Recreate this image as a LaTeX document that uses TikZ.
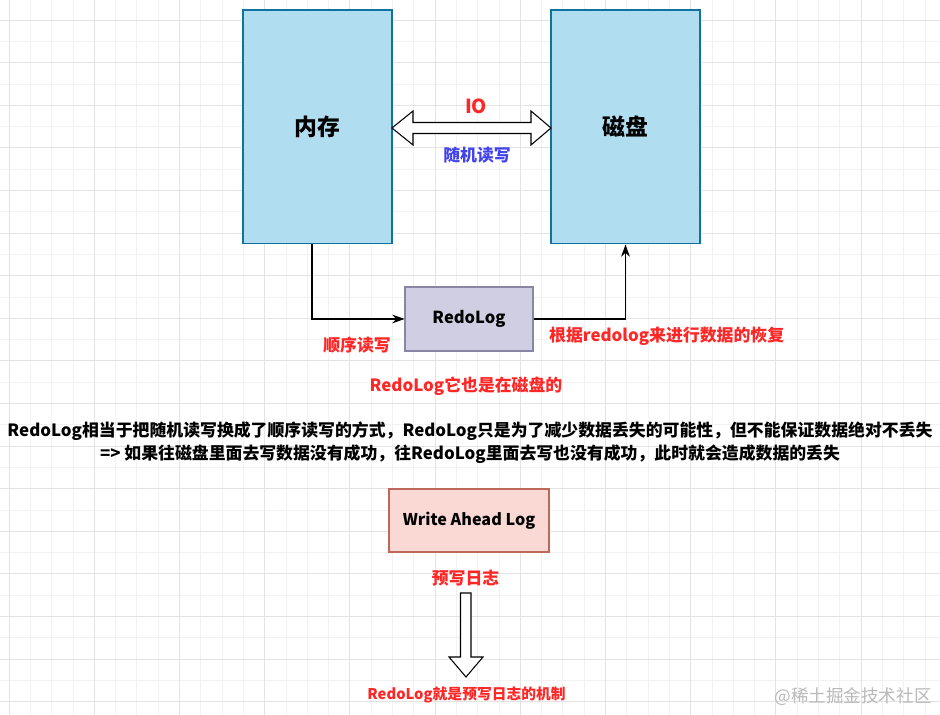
\documentclass[tikz,border=0pt]{standalone}
\usepackage{fontspec}
\setmainfont{Noto Sans CJK SC}
\usetikzlibrary{arrows.meta}
\definecolor{memfill}{HTML}{B1DDF0}
\definecolor{memline}{HTML}{10739E}
\definecolor{redofill}{HTML}{D0CEE2}
\definecolor{redoline}{HTML}{56517E}
\definecolor{walfill}{HTML}{FAD9D5}
\definecolor{walline}{HTML}{AE4132}
\definecolor{notered}{HTML}{FF2626}
\definecolor{noteblue}{HTML}{4343EE}

\begin{document}
\begin{tikzpicture}[x=0.02cm, y=-0.02cm,
  box/.style={draw, line width=0.6pt, font=\bfseries\fontsize{9.4}{11}\selectfont},
  store/.style={box, fill=memfill, draw=memline, minimum width=2.98cm, minimum height=4.68cm,
    font=\bfseries\fontsize{13}{15}\selectfont},
  rednote/.style={text=notered, font=\bfseries\fontsize{9.6}{11}\selectfont},
  hollow/.style={draw, fill=white, line width=0.6pt, line join=miter},
  gridminor/.style={gray!10, line width=0.4pt},
  gridmajor/.style={gray!22, line width=0.5pt}]
  \useasboundingbox (0,0) rectangle (940,715);
  % background grid
  \fill[white] (0,0) rectangle (940,715);
  \foreach \k in {0,...,44} \draw[gridminor] ({9+21.3*\k},0) -- ({9+21.3*\k},715);
  \foreach \k in {0,...,34} \draw[gridminor] (0,{-1.3+21.3*\k}) -- (940,{-1.3+21.3*\k});
  \foreach \k in {0,...,11} \draw[gridmajor] ({9+85.2*\k},0) -- ({9+85.2*\k},715);
  \foreach \k in {0,...,16} \draw[gridmajor] (0,{20+42.6*\k}) -- (940,{20+42.6*\k});

  \node[store] (mem) at (317.5,127) {内存};
  \node[store] (disk) at (625.5,127) {磁盘};
  % IO arrow
  \draw[hollow] (392,128) -- (413,111) -- (413,122.5) -- (531,122.5) -- (531,111) -- (551,128)
    -- (531,145) -- (531,133.5) -- (413,133.5) -- (413,145) -- cycle;
  \node[text=notered, font=\bfseries\fontsize{11}{13}\selectfont] (iolabel) at (476,106) {IO};
  \node[text=noteblue, font=\bfseries\fontsize{9.6}{11}\selectfont] (rand) at (477,155) {随机读写};

  \node[box, fill=redofill, draw=redoline!70, minimum width=2.56cm, minimum height=1.28cm] (redo) at (469,319) {RedoLog};
  \draw[-{Stealth[length=7pt, width=5pt]}, line width=0.6pt] ([xshift=-0.11cm]mem.south) |- (redo.west);
  \draw[-{Stealth[length=7pt, width=5pt]}, line width=0.6pt] (redo.east) -| (disk.south);
  \node[rednote] (seq) at (357,345) {顺序读写};
  \node[rednote, anchor=west] (recover) at (543,336) {根据redolog来进行数据的恢复};
  \node[rednote] (ondisk) at (466,386) {RedoLog它也是在磁盘的};

  \node[align=center, font=\bfseries\fontsize{9.6}{13}\selectfont] (summary) at (470,443)
    {RedoLog相当于把随机读写换成了顺序读写的方式，RedoLog只是为了减少数据丢失的可能性，但不能保证数据绝对不丢失\\
     => 如果往磁盘里面去写数据没有成功，往RedoLog里面去写也没有成功，此时就会造成数据的丢失};

  \node[box, fill=walfill, draw=walline!80, minimum width=3.2cm, minimum height=1.26cm,
    font=\bfseries\fontsize{9.2}{11}\selectfont] (wal) at (469,520.5) {Write Ahead Log};
  \node[rednote] (prewrite) at (465.5,578) {预写日志};
  % down arrow
  \draw[hollow] (460.5,593) -- (471,593) -- (471,657) -- (483,657) -- (466,677) -- (449,657)
    -- (460.5,657) -- cycle;
  \node[rednote, font=\bfseries\fontsize{8.4}{10}\selectfont] (mechanism) at (466.5,695) {RedoLog就是预写日志的机制};
  \node[text=gray!55, font=\fontsize{10}{11}\selectfont] (mark) at (853,697) {@稀土掘金技术社区};
\end{tikzpicture}
\end{document}
